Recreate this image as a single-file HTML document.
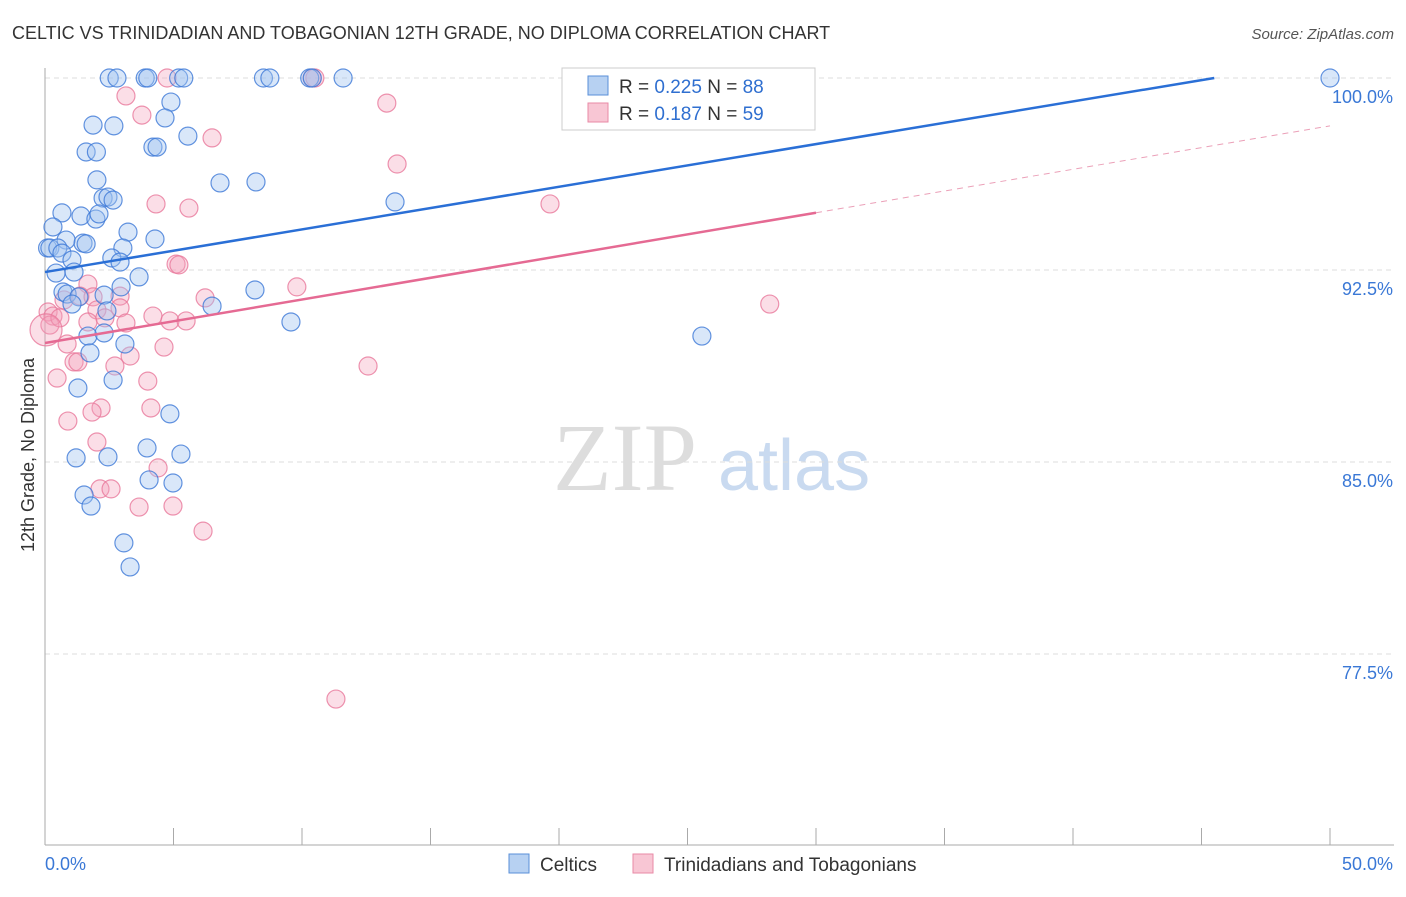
<!DOCTYPE html>
<html><head><meta charset="utf-8"><style>
body{margin:0;background:#fff;font-family:"Liberation Sans",sans-serif;}
</style></head><body>
<svg id="c" width="1406" height="892" xmlns="http://www.w3.org/2000/svg">
<text x="12" y="39" font-size="18" fill="#333">CELTIC VS TRINIDADIAN AND TOBAGONIAN 12TH GRADE, NO DIPLOMA CORRELATION CHART</text>
<text x="1394" y="39" font-size="15" fill="#555" font-style="italic" text-anchor="end">Source: ZipAtlas.com</text>
<text x="0" y="0" transform="translate(34,455) rotate(-90)" font-size="18" fill="#333" text-anchor="middle">12th Grade, No Diploma</text>
<g><text x="553" y="490" font-size="96" font-family="Liberation Serif,serif" fill="#ddd">ZIP</text><text x="718" y="490" font-size="72" fill="#c9daf0">atlas</text></g>
<g id="grid"></g><g id="pts"></g><g id="lines"></g>
<g>
<rect x="562" y="68" width="253" height="62" fill="#fff" stroke="#ccc"/>
<rect x="588" y="76" width="20" height="19" fill="#b7d1f2" stroke="#5a8fd8"/>
<rect x="588" y="103" width="20" height="19" fill="#f8c6d4" stroke="#e88aa6"/>
<text x="619" y="93" font-size="19" fill="#333">R = <tspan fill="#2f6fd0">0.225</tspan>   N = <tspan fill="#2f6fd0">88</tspan></text>
<text x="619" y="120" font-size="19" fill="#333">R =  <tspan fill="#2f6fd0">0.187</tspan>   N = <tspan fill="#2f6fd0">59</tspan></text>
</g>
<g>
<rect x="509" y="854" width="20" height="19" fill="#b7d1f2" stroke="#5a8fd8"/>
<text x="540" y="871" font-size="19" fill="#333">Celtics</text>
<rect x="633" y="854" width="20" height="19" fill="#f8c6d4" stroke="#e88aa6"/>
<text x="664" y="871" font-size="19" fill="#333">Trinidadians and Tobagonians</text>
</g>
</svg>
<script>
const yTicks=[100,92.5,85,77.5];
const yTickLabels=["100.0%","92.5%","85.0%","77.5%"];
const xEndLabels=["0.0%","50.0%"];
const blueX=[2.5,2.8,3.9,4.0,5.2,5.4,8.5,8.75,10.3,10.4,11.6,50,4.9,4.67,1.87,2.68,5.56,1.6,2.0,4.2,4.36,2.02,6.81,8.21,2.26,2.45,2.65,13.62,0.66,1.4,1.98,2.1,0.31,3.23,4.28,0.82,1.48,1.6,0.1,0.19,0.5,0.66,3.03,2.6,2.92,1.05,0.43,1.13,3.66,8.17,2.96,2.3,0.7,0.86,1.32,1.05,2.41,6.5,9.57,1.67,2.3,3.11,25.56,1.75,2.65,1.28,4.86,3.97,5.29,1.21,2.45,4.05,4.98,1.52,1.79,3.07,3.31];
const blueY=[100,100,100,100,100,100,100,100,100,100,100,100,99.06,98.44,98.16,98.13,97.73,97.11,97.11,97.3,97.3,96.02,95.9,95.94,95.31,95.35,95.23,95.16,94.73,94.61,94.49,94.69,94.18,93.98,93.71,93.67,93.55,93.52,93.36,93.36,93.36,93.16,93.36,92.97,92.81,92.89,92.38,92.42,92.23,91.72,91.84,91.52,91.64,91.56,91.45,91.17,90.9,91.09,90.47,89.92,90.04,89.61,89.92,89.26,88.2,87.89,86.88,85.55,85.31,85.16,85.2,84.3,84.18,83.71,83.28,81.84,80.9];
const pinkX=[4.75,10.39,10.5,3.15,13.3,3.77,6.5,13.7,4.32,5.6,19.65,5.1,5.21,1.67,6.23,9.8,28.2,0.74,1.36,1.87,2.92,0.12,0.31,0.19,0.58,0.04,2.02,2.92,2.33,3.15,4.2,4.86,5.49,1.67,0.86,4.63,3.31,2.72,1.13,1.28,12.57,0.47,4.0,2.18,1.83,0.89,4.12,2.02,4.4,2.14,2.57,3.66,4.98,6.15,11.32];
const pinkY=[100,100,100,99.3,99.02,98.55,97.66,96.64,95.08,94.92,95.08,92.73,92.7,91.95,91.41,91.84,91.17,91.33,91.48,91.45,91.48,90.86,90.7,90.35,90.63,90.16,90.94,91.02,90.63,90.43,90.7,90.51,90.51,90.47,89.61,89.49,89.14,88.75,88.91,88.91,88.75,88.28,88.16,87.11,86.95,86.6,87.11,85.78,84.77,83.95,83.95,83.24,83.28,82.3,75.74];
const blueLine=[92.42,0.1666];
const pinkLine=[89.65,0.1696];
const NS="http://www.w3.org/2000/svg";
const X=v=>45+v/50*1285, Y=v=>78+(100-v)/7.5*192;
function mk(t,a,p){const e=document.createElementNS(NS,t);for(const k in a)e.setAttribute(k,a[k]);p.appendChild(e);return e;}
const g=document.getElementById('grid');
yTicks.forEach((t,i)=>{
 const l=mk('line',{x1:45,x2:1394,y1:Y(t),y2:Y(t),stroke:'#ddd','stroke-dasharray':'5,4'},g);
 
 
 const tx=mk('text',{x:1393,y:Y(t)+25,'font-size':18,fill:'#3a78d6','text-anchor':'end'},g);tx.textContent=yTickLabels[i];
 
 
});
const ax=mk('line',{x1:45,x2:45,y1:68,y2:845,stroke:'#aaa'},g);


const bx=mk('line',{x1:45,x2:1394,y1:845,y2:845,stroke:'#aaa'},g);


for(let i=0;i<=10;i++){const t=mk('line',{x1:X(i*5),x2:X(i*5),y1:828,y2:845,stroke:'#aaa'},g);
 
 }
[[0,'start'],[50,'end']].forEach((d,i)=>{const t=mk('text',{x:i?1393:45,y:870,'font-size':18,fill:'#3a78d6','text-anchor':d[1]},g);t.textContent=xEndLabels[i];
 
 });
const p=document.getElementById('pts');
pinkX.forEach((x,i)=>{const c=mk('circle',{cx:X(x),cy:Y(pinkY[i]),r:(i==25?16:9),fill:'rgba(244,160,185,0.35)',stroke:'rgba(232,120,155,0.8)','stroke-width':1.2},p);
 
 });
blueX.forEach((x,i)=>{const c=mk('circle',{cx:X(x),cy:Y(blueY[i]),r:9,fill:'rgba(160,195,240,0.4)',stroke:'rgba(60,120,215,0.8)','stroke-width':1.2},p);
 
 });
const L=document.getElementById('lines');
const bEnd=(100-blueLine[0])/blueLine[1];
const bl=mk('line',{x1:X(0),y1:Y(blueLine[0]),x2:X(bEnd),y2:Y(100),stroke:'#2a6fd6','stroke-width':2.5},L);


const pl=mk('line',{x1:X(0),y1:Y(pinkLine[0]),x2:X(30),y2:Y(pinkLine[0]+30*pinkLine[1]),stroke:'#e56a93','stroke-width':2.5},L);


const pd=mk('line',{x1:X(30),y1:Y(pinkLine[0]+30*pinkLine[1]),x2:X(50),y2:Y(pinkLine[0]+50*pinkLine[1]),stroke:'#eba0b8','stroke-width':1,'stroke-dasharray':'6,5'},L);


</script>
</body></html>
